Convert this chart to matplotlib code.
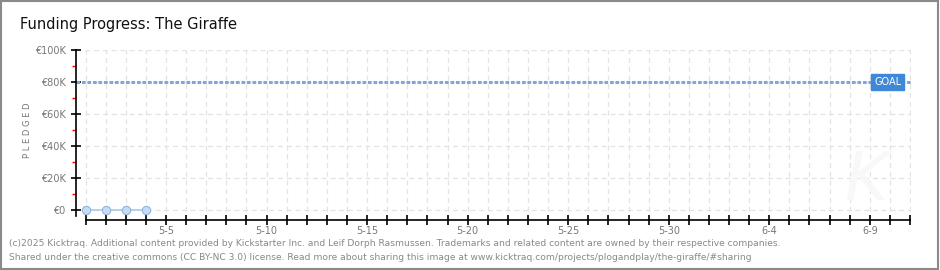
import datetime as dt
import matplotlib.pyplot as plt
from matplotlib.ticker import FixedLocator

# campaign data
start = dt.date(2025, 5, 1)
n_days = 41
pledged_days = [0, 1, 2, 3]
pledged = [0, 0, 0, 0]
goal = 80000
y_ticks = [0, 20000, 40000, 60000, 80000, 100000]
y_labels = ['€0', '€20K', '€40K', '€60K', '€80K', '€100K']

W, H = 940, 270
fig = plt.figure(figsize=(W / 100, H / 100), dpi=100)
fig.patch.set_facecolor('white')

# outer frame
fig.add_artist(plt.Rectangle((0.001, 0.002), 0.997, 0.995, transform=fig.transFigure,
                             fill=False, edgecolor='#8a8a8a', linewidth=1.5))

ax = fig.add_axes([76 / W, 50 / H, (911 - 76) / W, 170 / H])
ax.set_xlim(-0.48, n_days + 0.05)
ax.set_ylim(-6250, 100000)

# grid
for d in range(n_days + 1):
    ax.axvline(d, color='#e3e3e3', lw=0.9, ls=(0, (4, 3)), zorder=0)
for v in y_ticks:
    ax.axhline(v, xmin=0.011, color='#e3e3e3', lw=0.9, ls=(0, (4, 3)), zorder=0)

# faint watermark
ax.text(n_days - 2.2, 18000, 'K', fontsize=48, color='#f8f8f8', style='italic',
        ha='center', va='center', zorder=0)

# goal line
ax.axhline(goal, color='#7fa8d6', lw=2.2, ls=(0, (1.2, 0.6)), zorder=2)
ax.text(n_days - 1.1, goal, 'GOAL', color='white', fontsize=7,
        ha='center', va='center', zorder=4,
        bbox=dict(boxstyle='square,pad=0.3', fc='#3f88d8', ec='#3f88d8'))

# pledged series
ax.plot(pledged_days, pledged, color='#a9c9ef', lw=1.2, marker='o', ms=6,
        mfc='#c5dcf6', mec='#93b4da', mew=0.8, zorder=3, clip_on=False)

# spines
for s in ['top', 'right']:
    ax.spines[s].set_visible(False)
ax.spines['left'].set_bounds(-4000, 100000)
ax.spines['bottom'].set_bounds(0, n_days)
ax.spines['left'].set_linewidth(1.2)
ax.spines['bottom'].set_linewidth(1.2)

# y ticks
ax.yaxis.set_major_locator(FixedLocator(y_ticks))
ax.set_yticklabels(y_labels)
ax.yaxis.set_minor_locator(FixedLocator([10000, 30000, 50000, 70000, 90000]))
ax.tick_params(axis='y', which='major', direction='inout', length=7, width=1.2,
               labelsize=7, labelcolor='#777777', pad=4)
ax.tick_params(axis='y', which='minor', direction='out', length=3, width=1, color='red')

# x ticks: label every fifth day
labels = []
for d in range(n_days + 1):
    day = start + dt.timedelta(days=d)
    labels.append(f'{day.month}-{day.day}' if d % 5 == 4 else '')
ax.set_xticks(range(n_days + 1))
ax.set_xticklabels(labels)
ax.tick_params(axis='x', which='major', direction='inout', length=7, width=1.2,
               labelsize=7, labelcolor='#777777', pad=0.5)

fig.text(20 / W, 1 - 25 / H, 'Funding Progress: The Giraffe', fontsize=10.5,
         color='#111111', va='center', ha='left')
fig.text(28 / W, 1 - 130 / H, 'P L E D G E D', fontsize=6, color='#777777',
         rotation=90, va='center', ha='center')

foot1 = ('(c)2025 Kicktraq. Additional content provided by Kickstarter Inc. and Leif Dorph Rasmussen. '
         'Trademarks and related content are owned by their respective companies.')
foot2 = ('Shared under the creative commons (CC BY-NC 3.0) license. Read more about sharing this image at '
         'www.kicktraq.com/projects/plogandplay/the-giraffe/#sharing')
fig.text(9 / W, 1 - 244 / H, foot1, fontsize=6.6, color='#888888', va='center')
fig.text(9 / W, 1 - 257 / H, foot2, fontsize=6.6, color='#888888', va='center')

fig.savefig('out.png', dpi=100)
